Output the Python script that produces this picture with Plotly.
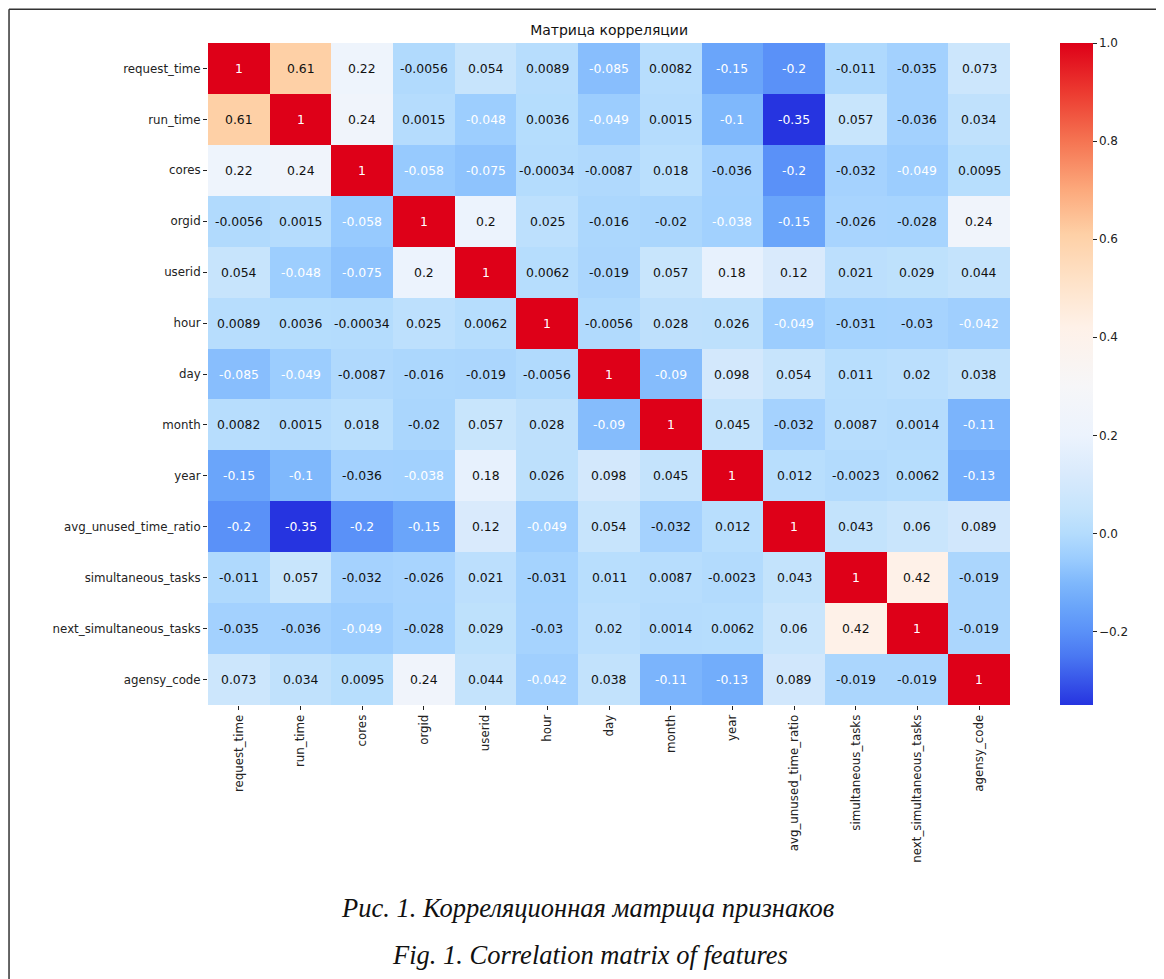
import plotly.graph_objects as go

features = ["request_time", "run_time", "cores", "orgid", "userid", "hour", "day",
            "month", "year", "avg_unused_time_ratio", "simultaneous_tasks",
            "next_simultaneous_tasks", "agensy_code"]

row_request_time = [1, 0.61, 0.22, -0.0056, 0.054, 0.0089, -0.085, 0.0082, -0.15, -0.2, -0.011, -0.035, 0.073]
row_run_time = [0.61, 1, 0.24, 0.0015, -0.048, 0.0036, -0.049, 0.0015, -0.1, -0.35, 0.057, -0.036, 0.034]
row_cores = [0.22, 0.24, 1, -0.058, -0.075, -0.00034, -0.0087, 0.018, -0.036, -0.2, -0.032, -0.049, 0.0095]
row_orgid = [-0.0056, 0.0015, -0.058, 1, 0.2, 0.025, -0.016, -0.02, -0.038, -0.15, -0.026, -0.028, 0.24]
row_userid = [0.054, -0.048, -0.075, 0.2, 1, 0.0062, -0.019, 0.057, 0.18, 0.12, 0.021, 0.029, 0.044]
row_hour = [0.0089, 0.0036, -0.00034, 0.025, 0.0062, 1, -0.0056, 0.028, 0.026, -0.049, -0.031, -0.03, -0.042]
row_day = [-0.085, -0.049, -0.0087, -0.016, -0.019, -0.0056, 1, -0.09, 0.098, 0.054, 0.011, 0.02, 0.038]
row_month = [0.0082, 0.0015, 0.018, -0.02, 0.057, 0.028, -0.09, 1, 0.045, -0.032, 0.0087, 0.0014, -0.11]
row_year = [-0.15, -0.1, -0.036, -0.038, 0.18, 0.026, 0.098, 0.045, 1, 0.012, -0.0023, 0.0062, -0.13]
row_avg_unused = [-0.2, -0.35, -0.2, -0.15, 0.12, -0.049, 0.054, -0.032, 0.012, 1, 0.043, 0.06, 0.089]
row_simult = [-0.011, 0.057, -0.032, -0.026, 0.021, -0.031, 0.011, 0.0087, -0.0023, 0.043, 1, 0.42, -0.019]
row_next_simult = [-0.035, -0.036, -0.049, -0.028, 0.029, -0.03, 0.02, 0.0014, 0.0062, 0.06, 0.42, 1, -0.019]
row_agensy = [0.073, 0.034, 0.0095, 0.24, 0.044, -0.042, 0.038, -0.11, -0.13, 0.089, -0.019, -0.019, 1]

matrix = [row_request_time, row_run_time, row_cores, row_orgid, row_userid, row_hour,
          row_day, row_month, row_year, row_avg_unused, row_simult, row_next_simult, row_agensy]

zmin, zmax = -0.35, 1.0
anchors = [
    (-0.35, "#2634E0"), (-0.25, "#4A78F2"), (-0.2, "#5A91F8"), (-0.15, "#6AA5FA"),
    (-0.1, "#7FB8FC"), (-0.05, "#9CCDFE"), (0.0, "#B4DCFD"), (0.05, "#C6E4FC"),
    (0.12, "#D9EAFC"), (0.2, "#ECF3FD"), (0.3, "#F6F6F8"), (0.42, "#FEF1E8"),
    (0.52, "#FEE1C6"), (0.61, "#FED0A6"), (0.7, "#FCA97C"), (0.8, "#F57452"),
    (0.9, "#EC3A30"), (1.0, "#DE0018"),
]
colorscale = [[(v - zmin) / (zmax - zmin), c] for v, c in anchors]

fig = go.Figure()
fig.add_trace(go.Heatmap(
    z=matrix, x=features, y=features, zmin=zmin, zmax=zmax,
    colorscale=colorscale, xgap=0, ygap=0, hoverongaps=False,
    colorbar=dict(
        thickness=33, len=1.0, lenmode="fraction", y=0.5, yanchor="middle",
        x=1.0623, xanchor="left", xpad=0, ypad=0, outlinewidth=0,
        tickvals=[-0.2, 0.0, 0.2, 0.4, 0.6, 0.8, 1.0], tickformat=".1f",
        ticks="outside", ticklen=4, tickcolor="#222",
        tickfont=dict(family="DejaVu Sans", size=12, color="#222"),
    ),
))

annotations = []
for i, rname in enumerate(features):
    for j, cname in enumerate(features):
        v = matrix[i][j]
        col = "white" if (v <= -0.037 or v >= 0.9) else "#111"
        annotations.append(dict(
            x=cname, y=rname, xref="x", yref="y", text="{:.2g}".format(v),
            showarrow=False, font=dict(family="DejaVu Sans", size=12.4, color=col)))

annotations.append(dict(
    x=0.4738, y=-0.3065, xref="paper", yref="paper", showarrow=False,
    text="<i>Рис. 1. Корреляционная матрица признаков</i>",
    font=dict(family="Liberation Serif", size=26.5, color="#111"), xanchor="center", yanchor="middle"))
annotations.append(dict(
    x=0.4763, y=-0.3775, xref="paper", yref="paper", showarrow=False,
    text="<i>Fig. 1. Correlation matrix of features</i>",
    font=dict(family="Liberation Serif", size=26.5, color="#111"), xanchor="center", yanchor="middle"))

shapes = [
    dict(type="line", xref="paper", yref="paper", x0=-0.2481, x1=1.25, y0=1.0509, y1=1.0509,
         line=dict(color="#333", width=1.5)),
    dict(type="line", xref="paper", yref="paper", x0=-0.2481, x1=-0.2481, y0=1.0509, y1=-0.42,
         line=dict(color="#333", width=1.5)),
]

fig.update_layout(
    width=1156, height=971,
    margin=dict(l=200, r=154, t=35, b=274),
    paper_bgcolor="white", plot_bgcolor="white",
    title=dict(text="Матрица корреляции", x=0.52, xanchor="center", y=0.9773, yanchor="middle",
               font=dict(family="DejaVu Sans", size=14, color="#111")),
    annotations=annotations, shapes=shapes,
    xaxis=dict(type="category", tickangle=-90, ticks="outside", ticklen=4, tickcolor="#222",
               tickfont=dict(family="DejaVu Sans", size=11.8, color="#222"), showgrid=False,
               zeroline=False, showline=False),
    yaxis=dict(type="category", autorange="reversed", ticks="outside", ticklen=4, tickcolor="#222",
               tickfont=dict(family="DejaVu Sans", size=11.8, color="#222"), showgrid=False,
               zeroline=False, showline=False),
)

fig.write_html("out.html")
